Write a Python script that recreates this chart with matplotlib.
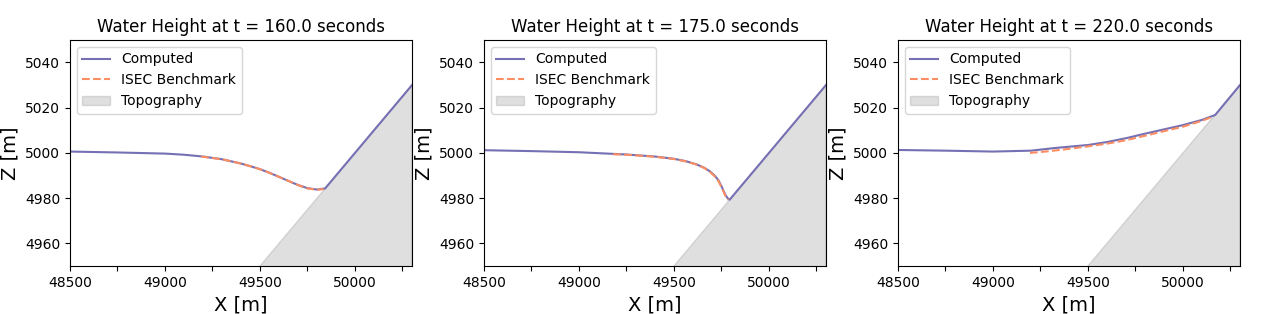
import matplotlib
matplotlib.use("Agg")
import matplotlib.pyplot as plt
from matplotlib.ticker import MultipleLocator

times = [160.0, 175.0, 220.0]

# Topography (linear slope)
topo_x = [48500, 50300]
topo_z = [4850, 5030]

# Computed water surface (wet part, then follows topography)
comp_x_160 = [48500, 48750, 49000, 49100, 49200, 49300, 49400, 49450, 49500, 49550, 49600,
              49650, 49700, 49750, 49800, 49843, 50300]
comp_z_160 = [5000.6, 5000.2, 4999.7, 4999.2, 4998.4, 4997.2, 4995.3, 4994.1, 4992.8, 4991.2,
              4989.4, 4987.6, 4985.8, 4984.4, 4983.8, 4984.3, 5030.0]
bench_x_160 = [49190, 49300, 49400, 49450, 49500, 49550, 49600, 49650, 49700, 49750, 49800, 49835]
bench_z_160 = [4998.4, 4997.2, 4995.3, 4994.1, 4992.8, 4991.2, 4989.4, 4987.6, 4985.8, 4984.3,
               4983.7, 4984.0]

comp_x_175 = [48500, 48750, 49000, 49250, 49400, 49500, 49560, 49620, 49660, 49690, 49715,
              49735, 49750, 49762, 49772, 49782, 49793, 50300]
comp_z_175 = [5001.2, 5000.8, 5000.3, 4999.3, 4998.4, 4997.4, 4996.4, 4994.9, 4993.4, 4991.8,
              4989.9, 4987.8, 4985.3, 4983.0, 4981.3, 4980.0, 4979.3, 5030.0]
bench_x_175 = [49180, 49250, 49400, 49500, 49560, 49620, 49660, 49690, 49715, 49735, 49750,
               49762, 49772, 49785]
bench_z_175 = [4999.4, 4999.2, 4998.3, 4997.3, 4996.3, 4994.8, 4993.3, 4991.6, 4989.6, 4987.4,
               4984.9, 4982.6, 4980.8, 4979.2]

comp_x_220 = [48500, 48750, 49000, 49200, 49330, 49500, 49600, 49700, 49800, 49900, 50000,
              50100, 50170, 50300]
comp_z_220 = [5001.3, 5001.0, 5000.6, 5001.0, 5002.2, 5003.5, 5004.8, 5006.5, 5008.5, 5010.4,
              5012.3, 5014.6, 5016.8, 5030.0]
bench_x_220 = [49195, 49300, 49400, 49500, 49600, 49700, 49800, 49900, 50000, 50100, 50150]
bench_z_220 = [5000.0, 5000.8, 5001.8, 5002.9, 5004.1, 5005.6, 5007.6, 5009.6, 5011.6, 5014.2,
               5015.8]

computed = [(comp_x_160, comp_z_160), (comp_x_175, comp_z_175), (comp_x_220, comp_z_220)]
bench = [(bench_x_160, bench_z_160), (bench_x_175, bench_z_175), (bench_x_220, bench_z_220)]

fig, axes = plt.subplots(1, 3, figsize=(12.75, 3.14), dpi=100)
fig.subplots_adjust(left=0.0549, right=0.9725, top=0.873, bottom=0.153, wspace=0.2105)

for ax, t, (cx, cz), (bx, bz) in zip(axes, times, computed, bench):
    ax.fill_between(topo_x, 4800, topo_z, color="gray", alpha=0.25, label="Topography")
    ax.plot(cx, cz, color="#7570b3", lw=1.5, label="Computed")
    ax.plot(bx, bz, color="#fc8d62", lw=1.5, ls="--", label="ISEC Benchmark")
    ax.set_xlim(48500, 50300)
    ax.set_ylim(4950, 5050)
    ax.xaxis.set_major_locator(MultipleLocator(500))
    ax.xaxis.set_minor_locator(MultipleLocator(250))
    ax.tick_params(axis="x", which="minor", length=3.5, width=0.8)
    ax.set_yticks([4960, 4980, 5000, 5020, 5040])
    ax.set_title(f"Water Height at t = {t} seconds", fontsize=12)
    ax.set_xlabel("X [m]", fontsize=14)
    ax.set_ylabel("Z [m]", fontsize=14)
    h, l = ax.get_legend_handles_labels()
    order = [1, 2, 0]
    ax.legend([h[i] for i in order], [l[i] for i in order], loc="upper left", fontsize=10)

fig.savefig("out.png", dpi=100)
